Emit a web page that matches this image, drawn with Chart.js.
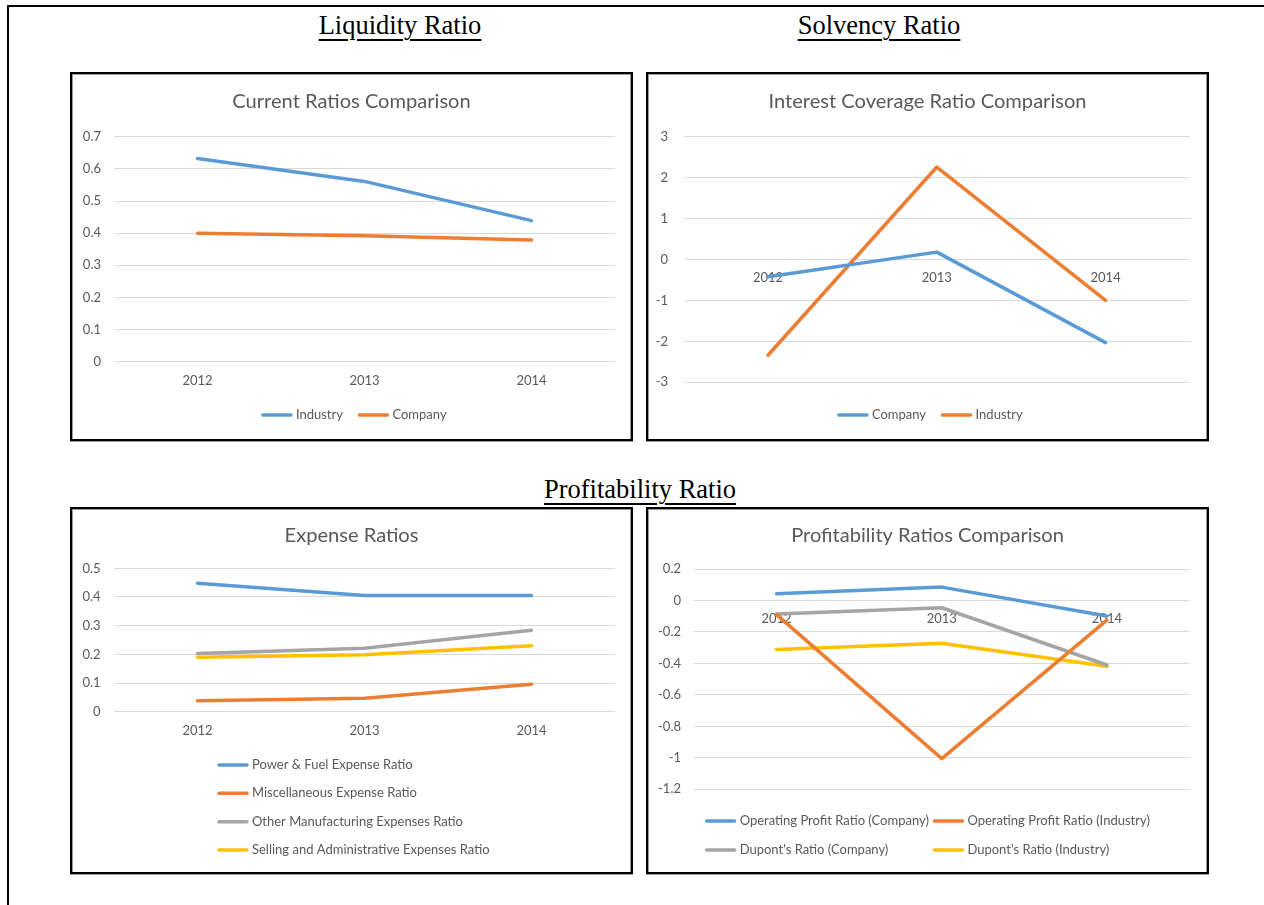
<!DOCTYPE html>
<html>
<head>
<meta charset="utf-8">
<script src="https://cdn.jsdelivr.net/npm/chart.js@4.4.1/dist/chart.umd.min.js"></script>
<style>
  html, body { margin: 0; padding: 0; background: #fff; }
  body { width: 1264px; height: 905px; position: relative; overflow: hidden; }
  .frame { position: absolute; left: 7px; top: 5px; width: 2000px; height: 2000px;
           border-top: 2px solid #000; border-left: 2px solid #000; }
  .heading { position: absolute; transform: translateX(-50%); white-space: nowrap;
             font-family: "Liberation Serif", "Times New Roman", serif; font-size: 26.5px;
             line-height: 26px; color: #000; text-decoration: underline;
             text-decoration-thickness: 2px; text-underline-offset: 5px; }
  .box { position: absolute; box-sizing: border-box; border: 2px solid #000;
         box-shadow: inset 1px 1px 0 #9a9a9a, inset -1px 0 0 #9a9a9a, 0 1px 0 #9a9a9a; }
  .box canvas { display: block; }
</style>
</head>
<body>
<div class="frame"></div>
<div class="heading" style="left:400px; top:12px;">Liquidity Ratio</div>
<div class="heading" style="left:879px; top:12px;">Solvency Ratio</div>
<div class="heading" style="left:640px; top:476px;">Profitability Ratio</div>

<div class="box" style="left:70px; top:72px; width:563px; height:369px;"><canvas id="c1" width="559" height="365"></canvas></div>
<div class="box" style="left:646px; top:72px; width:563px; height:369px;"><canvas id="c2" width="559" height="365"></canvas></div>
<div class="box" style="left:70px; top:507px; width:563px; height:367px;"><canvas id="c3" width="559" height="363"></canvas></div>
<div class="box" style="left:646px; top:507px; width:563px; height:367px;"><canvas id="c4" width="559" height="363"></canvas></div>

<script>
// Years shown on every category axis
const years = ['2012', '2013', '2014'];

// Current ratio
const currentIndustry = [0.632, 0.561, 0.439];
const currentCompany = [0.400, 0.392, 0.379];

// Interest coverage ratio
const coverageCompany = [-0.42, 0.18, -2.03];
const coverageIndustry = [-2.34, 2.26, -1.00];

// Expense ratios
const powerFuelRatio = [0.448, 0.405, 0.405];
const miscExpenseRatio = [0.038, 0.047, 0.096];
const otherMfgRatio = [0.203, 0.221, 0.284];
const sellingAdminRatio = [0.190, 0.199, 0.230];

// Profitability ratios
const opProfitCompany = [0.043, 0.085, -0.098];
const opProfitIndustry = [-0.090, -1.005, -0.125];
const dupontCompany = [-0.086, -0.046, -0.410];
const dupontIndustry = [-0.312, -0.272, -0.418];

// Value axis ranges: [min, max, step]
const currentAxis = [0, 0.7, 0.1];
const coverageAxis = [-3, 3, 1];
const expenseAxis = [0, 0.5, 0.1];
const profitAxis = [-1.2, 0.2, 0.2];

const BLUE = '#5B9BD5', ORANGE = '#ED7D31', GREY = '#A5A5A5', GOLD = '#FFC000';
const TEXT = '#595959', GRID = '#D9D9D9';
const FAMILY = 'Lato, "Open Sans", sans-serif';
const SMALL = 13;

// Legend laid out as a grid of line samples and labels under the plot
const gridLegend = {
  id: 'gridLegend',
  afterDraw(chart, args, opts) {
    const ctx = chart.ctx;
    const sets = chart.data.datasets;
    const cols = opts.columns;
    ctx.save();
    ctx.font = SMALL + 'px ' + FAMILY;
    const widths = sets.map(d => opts.sample + opts.gap + ctx.measureText(d.label).width);
    const colW = [];
    widths.forEach((w, i) => { const c = i % cols; colW[c] = Math.max(colW[c] || 0, w); });
    const total = colW.reduce((a, b) => a + b, 0) + opts.colGap * (cols - 1);
    const x0 = chart.width / 2 - total / 2 + (opts.shift || 0);
    sets.forEach((d, i) => {
      const c = i % cols, r = Math.floor(i / cols);
      let x = x0;
      for (let k = 0; k < c; k++) x += colW[k] + opts.colGap;
      const y = opts.rows[r];
      ctx.strokeStyle = d.borderColor;
      ctx.lineWidth = d.borderWidth;
      ctx.lineCap = 'round';
      ctx.beginPath();
      ctx.moveTo(x + 1.5, y);
      ctx.lineTo(x + opts.sample - 1.5, y);
      ctx.stroke();
      ctx.fillStyle = TEXT;
      ctx.textBaseline = 'middle';
      ctx.textAlign = 'left';
      ctx.fillText(d.label, x + opts.sample + opts.gap, y);
    });
    ctx.restore();
  }
};

function series(label, data, color) {
  return { label, data, borderColor: color, backgroundColor: color, borderWidth: 3.5,
           pointRadius: 0, pointHoverRadius: 0, tension: 0, fill: false,
           borderJoinStyle: 'round', borderCapStyle: 'round' };
}

function fmt(v) { return String(Math.round(v * 10) / 10); }

function makeChart(id, cfg) {
  const [ymin, ymax, ystep] = cfg.axis;
  return new Chart(document.getElementById(id), {
    type: 'line',
    data: { labels: years, datasets: cfg.datasets },
    plugins: [gridLegend],
    options: {
      responsive: false,
      animation: false,
      devicePixelRatio: 1,
      events: [],
      layout: { padding: { left: 0, top: 0, right: 0, bottom: cfg.bottom } },
      plugins: {
        legend: { display: false },
        tooltip: { enabled: false },
        title: {
          display: true, text: cfg.title, color: TEXT,
          font: { family: FAMILY, size: 20.1, weight: 'normal', lineHeight: 1.2 },
          padding: { top: cfg.titleTop, bottom: cfg.titleBottom }
        },
        gridLegend: cfg.legend
      },
      scales: {
        x: {
          position: { y: 0 },
          offset: true,
          grid: { display: false, drawTicks: false },
          border: { display: false },
          ticks: { color: TEXT, font: { family: FAMILY, size: SMALL }, padding: 11, maxRotation: 0 }
        },
        y: {
          min: ymin, max: ymax,
          grid: { color: GRID, lineWidth: 1, drawTicks: false },
          border: { display: false },
          ticks: { stepSize: ystep, color: TEXT, font: { family: FAMILY, size: SMALL },
                   padding: cfg.tickPad, callback: fmt },
          afterFit(scale) { scale.width = cfg.axisWidth; }
        },
        // empty right-hand margin so the plot ends short of the frame
        yRight: {
          position: 'right', display: true,
          grid: { display: false, drawTicks: false },
          border: { display: false },
          ticks: { display: false },
          afterFit(scale) { scale.width = cfg.right; }
        }
      }
    }
  });
}

makeChart('c1', {
  title: 'Current Ratios Comparison', axis: currentAxis,
  datasets: [series('Industry', currentIndustry, BLUE), series('Company', currentCompany, ORANGE)],
  axisWidth: 42, tickPad: 13, right: 16, bottom: 77.3, titleTop: 15.9, titleBottom: 22.7,
  legend: { columns: 2, sample: 31, gap: 3.5, colGap: 15, rows: [341], shift: 2.5 }
});

makeChart('c2', {
  title: 'Interest Coverage Ratio Comparison', axis: coverageAxis,
  datasets: [series('Company', coverageCompany, BLUE), series('Industry', coverageIndustry, ORANGE)],
  axisWidth: 35.6, tickPad: 15.6, right: 17, bottom: 56.7, titleTop: 15.9, titleBottom: 22.7,
  legend: { columns: 2, sample: 31, gap: 3.5, colGap: 15, rows: [341], shift: 2.5 }
});

makeChart('c3', {
  title: 'Expense Ratios', axis: expenseAxis,
  datasets: [
    series('Power & Fuel Expense Ratio', powerFuelRatio, BLUE),
    series('Miscellaneous Expense Ratio', miscExpenseRatio, ORANGE),
    series('Other Manufacturing Expenses Ratio', otherMfgRatio, GREY),
    series('Selling and Administrative Expenses Ratio', sellingAdminRatio, GOLD)
  ],
  axisWidth: 42, tickPad: 13.4, right: 16, bottom: 160.3, titleTop: 14.6, titleBottom: 20.6,
  legend: { columns: 1, sample: 31, gap: 3.5, colGap: 0, rows: [256, 284.3, 312.7, 341], shift: 2 }
});

makeChart('c4', {
  title: 'Profitability Ratios Comparison', axis: profitAxis,
  datasets: [
    series('Operating Profit Ratio (Company)', opProfitCompany, BLUE),
    series('Operating Profit Ratio (Industry)', opProfitIndustry, ORANGE),
    series("Dupont's Ratio (Company)", dupontCompany, GREY),
    series("Dupont's Ratio (Industry)", dupontIndustry, GOLD)
  ],
  axisWidth: 46, tickPad: 13, right: 17.5, bottom: 82.7, titleTop: 14.6, titleBottom: 21.3,
  legend: { columns: 2, sample: 31, gap: 3.5, colGap: 4, rows: [312, 341], shift: 0 }
});
</script>
</body>
</html>
